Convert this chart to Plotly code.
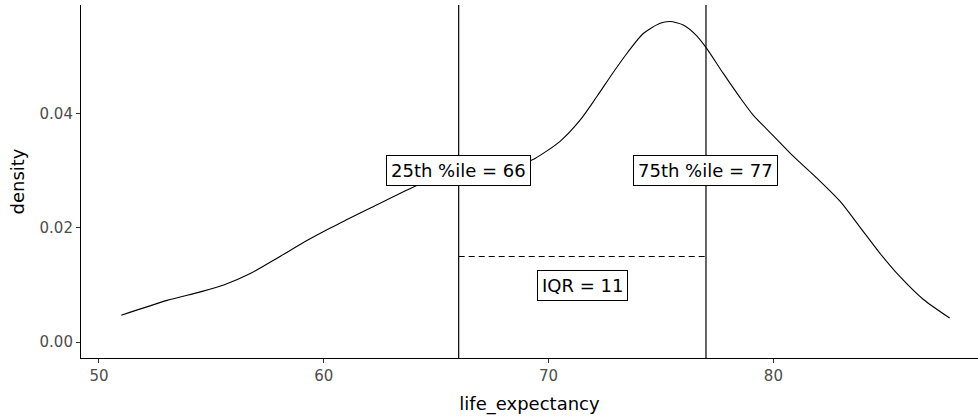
import plotly.graph_objects as go

# Density curve of life_expectancy
life_x = [50.99, 53.03, 54.51, 55.55, 56.73, 57.92, 59.25, 60.29, 61.10, 62.07,
          63.99, 65.0, 66.0, 67.0, 68.0, 69.0, 69.40, 70.51, 71.40, 72.14,
          72.88, 73.48, 74.21, 74.96, 75.40, 75.99, 76.59, 77.03, 77.77, 78.51,
          79.10, 79.99, 80.88, 81.92, 82.96, 83.84, 84.73, 85.62, 86.66, 87.84]
density_y = [0.0047, 0.0073, 0.0088, 0.0100, 0.0120, 0.0147, 0.0178, 0.0200, 0.0216, 0.0235,
             0.0272, 0.0288, 0.0299, 0.0305, 0.0310, 0.0316, 0.0322, 0.0352, 0.0389, 0.0430,
             0.0473, 0.0506, 0.0541, 0.0559, 0.0562, 0.0556, 0.0537, 0.0515, 0.0471, 0.0429,
             0.0398, 0.0362, 0.0326, 0.0288, 0.0247, 0.0202, 0.0156, 0.0115, 0.0075, 0.0042]

q25 = 66.0
q75 = 77.0
iqr_y = 0.015
label_y = 0.03
iqr_label_y = 0.01
label_25 = "25th %ile = 66"
label_75 = "75th %ile = 77"
label_iqr = "IQR = 11"

x_ticks = [50, 60, 70, 80]
y_ticks = [0.00, 0.02, 0.04]
y_tick_text = ["0.00", "0.02", "0.04"]

FONT = "DejaVu Sans"

fig = go.Figure()
fig.add_trace(go.Scatter(x=life_x, y=density_y, mode="lines",
                         line=dict(color="black", width=1.1, shape="spline", smoothing=0.7),
                         hoverinfo="skip", showlegend=False))
fig.add_trace(go.Scatter(x=[q25, q75], y=[iqr_y, iqr_y], mode="lines",
                         line=dict(color="black", width=1.2, dash="6px,4px"),
                         hoverinfo="skip", showlegend=False))

for q in [q25, q75]:
    fig.add_shape(type="line", xref="x", yref="paper", x0=q, x1=q, y0=0, y1=1,
                  line=dict(color="black", width=1.2), layer="above")

for txt, xx, yy in [(label_25, q25, label_y), (label_75, q75, label_y),
                    (label_iqr, (q25 + q75) / 2, iqr_label_y)]:
    fig.add_annotation(x=xx, y=yy, text=txt, showarrow=False,
                       font=dict(family=FONT, size=18, color="black"),
                       bgcolor="white", bordercolor="black", borderwidth=1, borderpad=4)

fig.update_layout(
    width=978, height=417,
    margin=dict(l=81, r=0, t=5, b=59),
    paper_bgcolor="white", plot_bgcolor="white",
    font=dict(family=FONT, color="black"),
    xaxis=dict(range=[49.2, 89.1], tickvals=x_ticks, showgrid=False, zeroline=False,
               showline=True, linecolor="black", linewidth=1.1,
               ticks="outside", ticklen=4, tickcolor="#333333", tickwidth=1.1,
               tickfont=dict(family=FONT, size=15, color="#4D4D4D"),
               title=dict(text="life_expectancy", font=dict(family=FONT, size=18, color="black"),
                          standoff=13)),
    yaxis=dict(range=[-0.0028, 0.0591], tickvals=y_ticks, ticktext=y_tick_text,
               showgrid=False, zeroline=False,
               showline=True, linecolor="black", linewidth=1.1,
               ticks="outside", ticklen=4, tickcolor="#333333", tickwidth=1.1,
               tickfont=dict(family=FONT, size=15, color="#4D4D4D"),
               title=dict(text="density", font=dict(family=FONT, size=18, color="black"),
                          standoff=10)),
)

fig.write_html("out.html")
